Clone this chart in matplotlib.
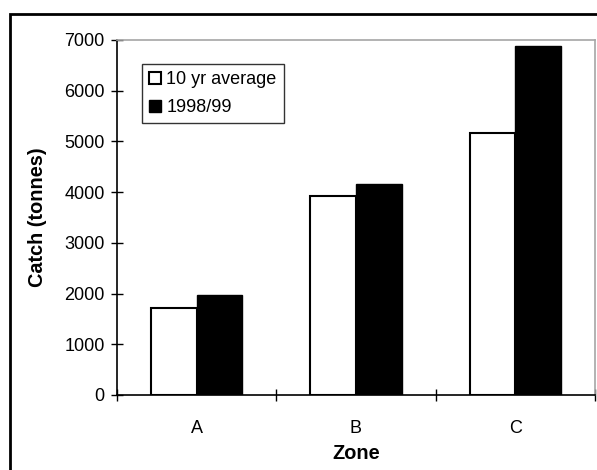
import numpy as np
import matplotlib
matplotlib.use("Agg")
import matplotlib.pyplot as plt
from matplotlib.patches import Rectangle

plt.rcParams["font.family"] = ["Liberation Sans", "DejaVu Sans"]

zones = ["A", "B", "C"]
avg_10yr = [1720, 3920, 5170]
catch_9899 = [1970, 4170, 6890]
series_names = ["10 yr average", "1998/99"]
y_ticks = [0, 1000, 2000, 3000, 4000, 5000, 6000, 7000]

fig = plt.figure(figsize=(5.97, 4.70), dpi=100)
ax = fig.add_axes([0.196, 0.1596, 0.8006, 0.7553])

x = np.arange(len(zones))
w = 1 / 3.5  # gap width 150%
ax.bar(x - w / 2, avg_10yr, width=w, color="white", edgecolor="black",
       linewidth=1.5, label=series_names[0], zorder=3)
ax.bar(x + w / 2, catch_9899, width=w, color="black", edgecolor="black",
       linewidth=1.0, label=series_names[1], zorder=3)

ax.set_xlim(-0.5, len(zones) - 0.5)
ax.set_ylim(0, 7000)
ax.set_yticks(y_ticks)
ax.set_yticklabels([str(v) for v in y_ticks], fontsize=13)

# category ticks sit between groups, labels sit at group centres
ax.set_xticks(np.arange(len(zones) + 1) - 0.5)
ax.set_xticklabels([""] * (len(zones) + 1))
ax.set_xticks(x, minor=True)
ax.set_xticklabels(zones, minor=True, fontsize=13)
ax.tick_params(axis="x", which="minor", length=0, pad=18)
ax.tick_params(axis="x", which="major", direction="inout", length=8, width=1)
ax.tick_params(axis="y", direction="inout", length=8, width=1, pad=5)

for side in ("left", "bottom"):
    ax.spines[side].set_color("black")
    ax.spines[side].set_linewidth(1.2)
for side in ("top", "right"):
    ax.spines[side].set_color("#a6a6a6")
    ax.spines[side].set_linewidth(1.2)

ax.set_xlabel("Zone", fontsize=14.3, fontweight="bold", labelpad=5)
ax.set_ylabel("Catch (tonnes)", fontsize=14.3, fontweight="bold", labelpad=12)

leg = ax.legend(loc="upper left", bbox_to_anchor=(0.052, 0.932),
                fontsize=13, frameon=True, fancybox=False,
                handlelength=0.65, handleheight=0.65, handletextpad=0.3,
                borderpad=0.4, labelspacing=0.6, borderaxespad=0)
leg.get_frame().set_edgecolor("black")
leg.get_frame().set_linewidth(1.0)

# outer chart frame
fig.patches.append(Rectangle((10 / 597, -0.05), 1.1, 0.05 + 1 - 14 / 470,
                             transform=fig.transFigure, fill=False,
                             edgecolor="black", linewidth=2, clip_on=False))

fig.savefig("out.png", dpi=100)
